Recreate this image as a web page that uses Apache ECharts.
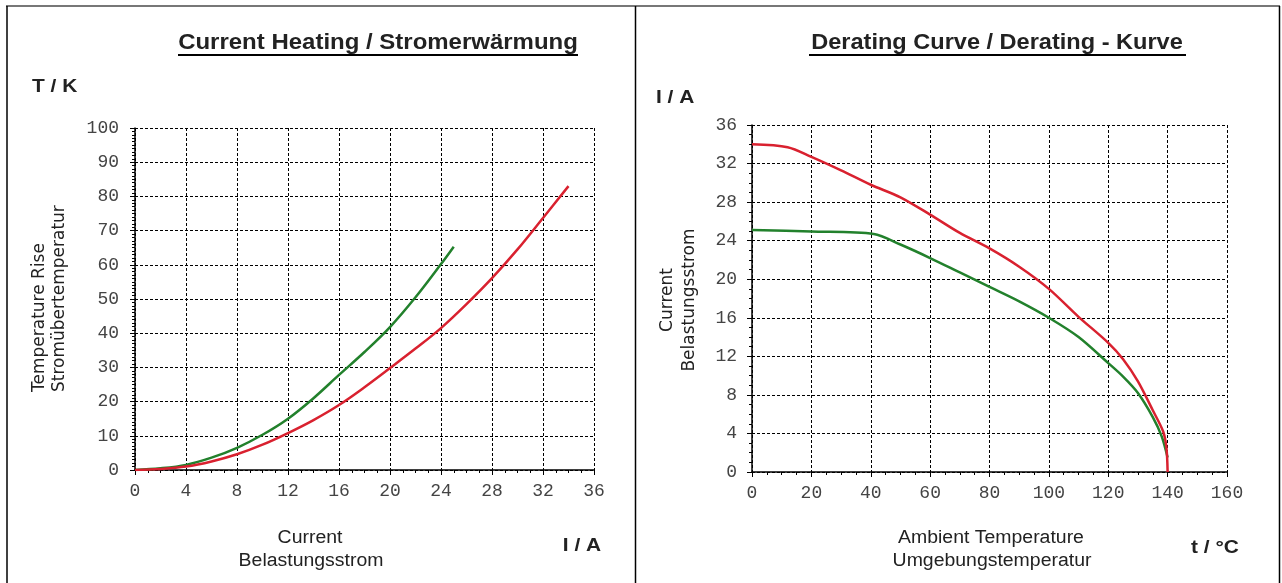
<!DOCTYPE html>
<html>
<head>
<meta charset="utf-8">
<script src="https://cdn.jsdelivr.net/npm/echarts@6/dist/echarts.min.js"></script>
<style>
  html, body { margin: 0; padding: 0; background: #fff; }
  #chart { width: 1282px; height: 583px; }
</style>
</head>
<body>
<div id="chart"></div>
<script>
// Current heating: load current I (A) against temperature rise T (K)
const heatCurrentGreen = [0, 2, 4, 6, 8, 10, 12, 14, 16, 18, 20, 22, 24, 25];
const heatRiseGreen    = [0, 0.5, 1.5, 3.6, 6.5, 10.3, 15.0, 21.0, 27.8, 34.5, 41.8, 50.5, 60.2, 65.3];
const heatCurrentRed   = [0, 2, 4, 6, 8, 10, 12, 14, 16, 18, 20, 22, 24, 26, 28, 30, 32, 34];
const heatRiseRed      = [0, 0.3, 1.0, 2.5, 4.6, 7.4, 10.8, 14.6, 19.0, 24.2, 29.8, 35.5, 41.5, 48.5, 56.1, 64.5, 73.7, 83.0];

// Derating: ambient temperature t (°C) against permissible current I (A)
const derTempRed      = [0, 12, 20, 30, 40, 50, 60, 70, 80, 90, 100, 110, 120, 125, 130, 135, 138.5, 139.6, 140];
const derCurrentRed   = [34.0, 33.7, 32.7, 31.3, 29.8, 28.5, 26.7, 24.8, 23.2, 21.3, 19.0, 16.1, 13.4, 11.7, 9.4, 6.4, 4.2, 2.5, 0];
const derTempGreen    = [0, 20, 41, 50, 60, 70, 80, 90, 100, 110, 120, 125, 130, 135, 138, 140];
const derCurrentGreen = [25.1, 24.95, 24.7, 23.6, 22.2, 20.7, 19.2, 17.7, 16.0, 14.0, 11.3, 9.9, 8.2, 5.7, 3.7, 1.5];

// Axis ranges and tick steps: [min, max, interval]
const heatXRange = [0, 36, 4];
const heatYRange = [0, 100, 10];
const derXRange  = [0, 160, 20];
const derYRange  = [0, 36, 4];

const RED = '#d9212f';
const GREEN = '#22812c';

function zip(xs, ys) { return xs.map((x, i) => [x, ys[i]]); }

function valueAxis(range, gridIndex, minorSplit, labelMargin) {
  return {
    type: 'value',
    gridIndex: gridIndex,
    min: range[0], max: range[1], interval: range[2],
    axisLine: { show: true, onZero: false, lineStyle: { color: '#000', width: 1.5 } },
    axisTick: { show: true, length: 5, lineStyle: { color: '#000', width: 1 } },
    minorTick: { show: true, splitNumber: minorSplit, length: 3, lineStyle: { color: '#000', width: 1 } },
    splitLine: { show: true, lineStyle: { color: '#000', width: 1, type: [3, 2] } },
    axisLabel: { color: '#444', fontFamily: 'Liberation Mono', fontSize: 18, margin: labelMargin }
  };
}

function txt(text, x, y, opt) {
  opt = opt || {};
  return {
    type: 'text', x: x, y: y, rotation: opt.rotation || 0,
    scaleX: opt.scaleX || 1,
    style: {
      text: text,
      fill: opt.color || '#222',
      font: opt.font || '18px "Liberation Sans"',
      align: opt.align || 'center', textAlign: opt.align || 'center',
      verticalAlign: 'middle', textVerticalAlign: 'middle'
    },
    z: 10
  };
}

function hline(x1, x2, y, w, color) {
  return { type: 'line', shape: { x1: x1, y1: y, x2: x2, y2: y }, style: { stroke: color || '#000', lineWidth: w }, z: 10 };
}
function vline(x, y1, y2, w, color) {
  return { type: 'line', shape: { x1: x, y1: y1, x2: x, y2: y2 }, style: { stroke: color || '#000', lineWidth: w }, z: 10 };
}

const TITLE_FONT = 'bold 22px "Liberation Sans"';
const UNIT_FONT = 'bold 19px "Liberation Sans"';
const LABEL_FONT = '18px "Liberation Sans"';
const YNAME_FONT = '17px "DejaVu Sans"';

const chart = echarts.init(document.getElementById('chart'), null, { renderer: 'canvas' });

chart.setOption({
  animation: false,
  backgroundColor: '#fff',
  grid: [
    { left: 135, top: 128, width: 459, height: 342, containLabel: false },
    { left: 752, top: 125, width: 475, height: 347, containLabel: false }
  ],
  xAxis: [
    valueAxis(heatXRange, 0, 4, 12),
    valueAxis(derXRange, 1, 4, 12)
  ],
  yAxis: [
    valueAxis(heatYRange, 0, 10, 16),
    valueAxis(derYRange, 1, 4, 15)
  ],
  series: [
    { name: 'Kurve 1', type: 'line', xAxisIndex: 0, yAxisIndex: 0, data: zip(heatCurrentGreen, heatRiseGreen),
      showSymbol: false, smooth: 0.35, lineStyle: { color: GREEN, width: 2.5 }, itemStyle: { color: GREEN }, z: 5 },
    { name: 'Kurve 2', type: 'line', xAxisIndex: 0, yAxisIndex: 0, data: zip(heatCurrentRed, heatRiseRed),
      showSymbol: false, smooth: 0.35, lineStyle: { color: RED, width: 2.5 }, itemStyle: { color: RED }, z: 5 },
    { name: 'Kurve 1', type: 'line', xAxisIndex: 1, yAxisIndex: 1, data: zip(derTempGreen, derCurrentGreen),
      showSymbol: false, smooth: 0.3, lineStyle: { color: GREEN, width: 2.5 }, itemStyle: { color: GREEN }, z: 5 },
    { name: 'Kurve 2', type: 'line', xAxisIndex: 1, yAxisIndex: 1, data: zip(derTempRed, derCurrentRed),
      showSymbol: false, smooth: 0.3, lineStyle: { color: RED, width: 2.5 }, itemStyle: { color: RED }, z: 6 }
  ],
  graphic: [
    // frame of the two panels
    hline(6, 1280, 6, 2, '#777'),
    vline(7, 6, 583, 1.5),
    vline(635.5, 6, 583, 1.5),
    vline(1279.5, 6, 583, 1.5),

    // left panel: current heating
    txt('Current Heating / Stromerwärmung', 378, 43, { font: TITLE_FONT, scaleX: 1.09 }),
    hline(178, 578, 55, 2),
    txt('T / K', 32, 87, { font: UNIT_FONT, align: 'left', scaleX: 1.1 }),
    txt('Temperature Rise', 40, 392, { font: YNAME_FONT, rotation: Math.PI / 2, align: 'left' }),
    txt('Stromübertemperatur', 60, 392, { font: YNAME_FONT, rotation: Math.PI / 2, align: 'left' }),
    txt('Current', 310, 538, { font: LABEL_FONT, scaleX: 1.08 }),
    txt('Belastungsstrom', 311, 561, { font: LABEL_FONT, scaleX: 1.08 }),
    txt('I / A', 582, 546, { font: UNIT_FONT, scaleX: 1.1 }),

    // right panel: derating curve
    txt('Derating Curve / Derating - Kurve', 997, 43, { font: TITLE_FONT, scaleX: 1.07 }),
    hline(809, 1186, 55, 2),
    txt('I / A', 656, 98, { font: UNIT_FONT, align: 'left', scaleX: 1.1 }),
    txt('Current', 668, 300, { font: YNAME_FONT, rotation: Math.PI / 2 }),
    txt('Belastungsstrom', 690, 300, { font: YNAME_FONT, rotation: Math.PI / 2 }),
    txt('Ambient Temperature', 991, 538, { font: LABEL_FONT, scaleX: 1.08 }),
    txt('Umgebungstemperatur', 992, 561, { font: LABEL_FONT, scaleX: 1.08 }),
    txt('t / °C', 1215, 548, { font: UNIT_FONT, scaleX: 1.1 })
  ]
});
</script>
</body>
</html>
